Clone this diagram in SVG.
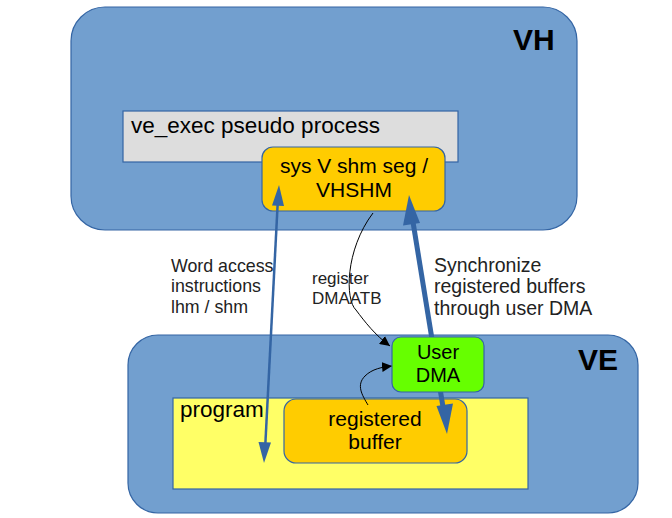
<svg xmlns="http://www.w3.org/2000/svg" width="672" height="518" viewBox="0 0 672 518">
<defs>
<style>
.big{fill:#729fcf;stroke:#3465a4;stroke-width:1.2}
.t{font-family:"Liberation Sans",Arial,sans-serif;fill:#000}
.lbl{font-family:"Liberation Sans",Arial,sans-serif;fill:#222}
.b{font-weight:bold;font-size:30px}
.blue{fill:none;stroke:#3465a4}
</style>
<marker id="ah" viewBox="0 0 10 10" refX="10" refY="5" markerWidth="10" markerHeight="10" markerUnits="userSpaceOnUse" orient="auto">
<path d="M0,0 L10,5 L0,10 z" fill="#000"/>
</marker>
</defs>
<rect width="672" height="518" fill="#fff"/>
<g id="vh">
<rect class="big" x="71" y="7" width="506" height="223" rx="34"/>
<text class="t b" x="513" y="50">VH</text>
</g>
<g id="ve_exec">
<rect x="123" y="111" width="335" height="51" fill="#dddddd" stroke="#3465a4" stroke-width="1.2"/>
<text class="t" x="131" y="133" font-size="22.5">ve_exec pseudo process</text>
</g>
<g id="sysv">
<rect x="262" y="147" width="183" height="64" rx="11" fill="#ffcc00" stroke="#3465a4" stroke-width="1.2"/>
<text class="t" x="354" y="173" font-size="21" text-anchor="middle">sys V shm seg /</text>
<text class="t" x="354" y="197" font-size="21" text-anchor="middle">VHSHM</text>
</g>
<g id="ve">
<rect class="big" x="128" y="335" width="510" height="178" rx="30"/>
<text class="t b" x="578" y="370">VE</text>
</g>
<g id="program">
<rect x="173" y="398" width="355" height="91" fill="#ffff66" stroke="#3465a4" stroke-width="1.2"/>
<text class="t" x="180" y="417" font-size="22.5">program</text>
</g>
<g id="regbuf">
<rect x="284" y="399" width="183" height="64" rx="12" fill="#ffcc00" stroke="#3465a4" stroke-width="1.2"/>
<text class="t" x="375" y="426" font-size="21" text-anchor="middle">registered</text>
<text class="t" x="375" y="449" font-size="21" text-anchor="middle">buffer</text>
</g>
<g id="connectors">
<line class="blue" x1="277.6" y1="205" x2="265.4" y2="443" stroke-width="2.5"/>
<path d="M279,185 L284,206 L272,205.5 z" fill="#3465a4"/>
<path d="M264,463 L258.5,442 L271,442.6 z" fill="#3465a4"/>
<line class="blue" x1="413" y1="222" x2="443" y2="407" stroke-width="5"/>
<path d="M409,195 L420,223 L403,225.5 z" fill="#3465a4"/>
<path d="M447,434 L436.5,406 L453,403.5 z" fill="#3465a4"/>
<path d="M373,213 C345,250 345,300 356,310 C365,322 375,335 390,346" fill="none" stroke="#000" stroke-width="1" marker-end="url(#ah)"/>
<path d="M368,405 C362,395 356,385 365,376 C372,369 382,367 392,366" fill="none" stroke="#000" stroke-width="1" marker-end="url(#ah)"/>
</g>
<g id="userdma">
<rect x="392" y="337" width="92" height="55" rx="9" fill="#66ff00" stroke="#3465a4" stroke-width="1.2"/>
<text class="t" x="438" y="359" font-size="20" text-anchor="middle">User</text>
<text class="t" x="438" y="382" font-size="20" text-anchor="middle">DMA</text>
</g>
<g id="labels">
<text class="lbl" x="171" y="272" font-size="17.8">Word access</text>
<text class="lbl" x="171" y="292" font-size="17.8">instructions</text>
<text class="lbl" x="171" y="313" font-size="17.8">lhm / shm</text>
<text class="lbl" x="312" y="284" font-size="17">register</text>
<text class="lbl" x="312" y="304" font-size="17">DMAATB</text>
<text class="lbl" x="434" y="272" font-size="19.5">Synchronize</text>
<text class="lbl" x="434" y="293" font-size="19.5">registered buffers</text>
<text class="lbl" x="434" y="315" font-size="19.5">through user DMA</text>
</g>
</svg>
